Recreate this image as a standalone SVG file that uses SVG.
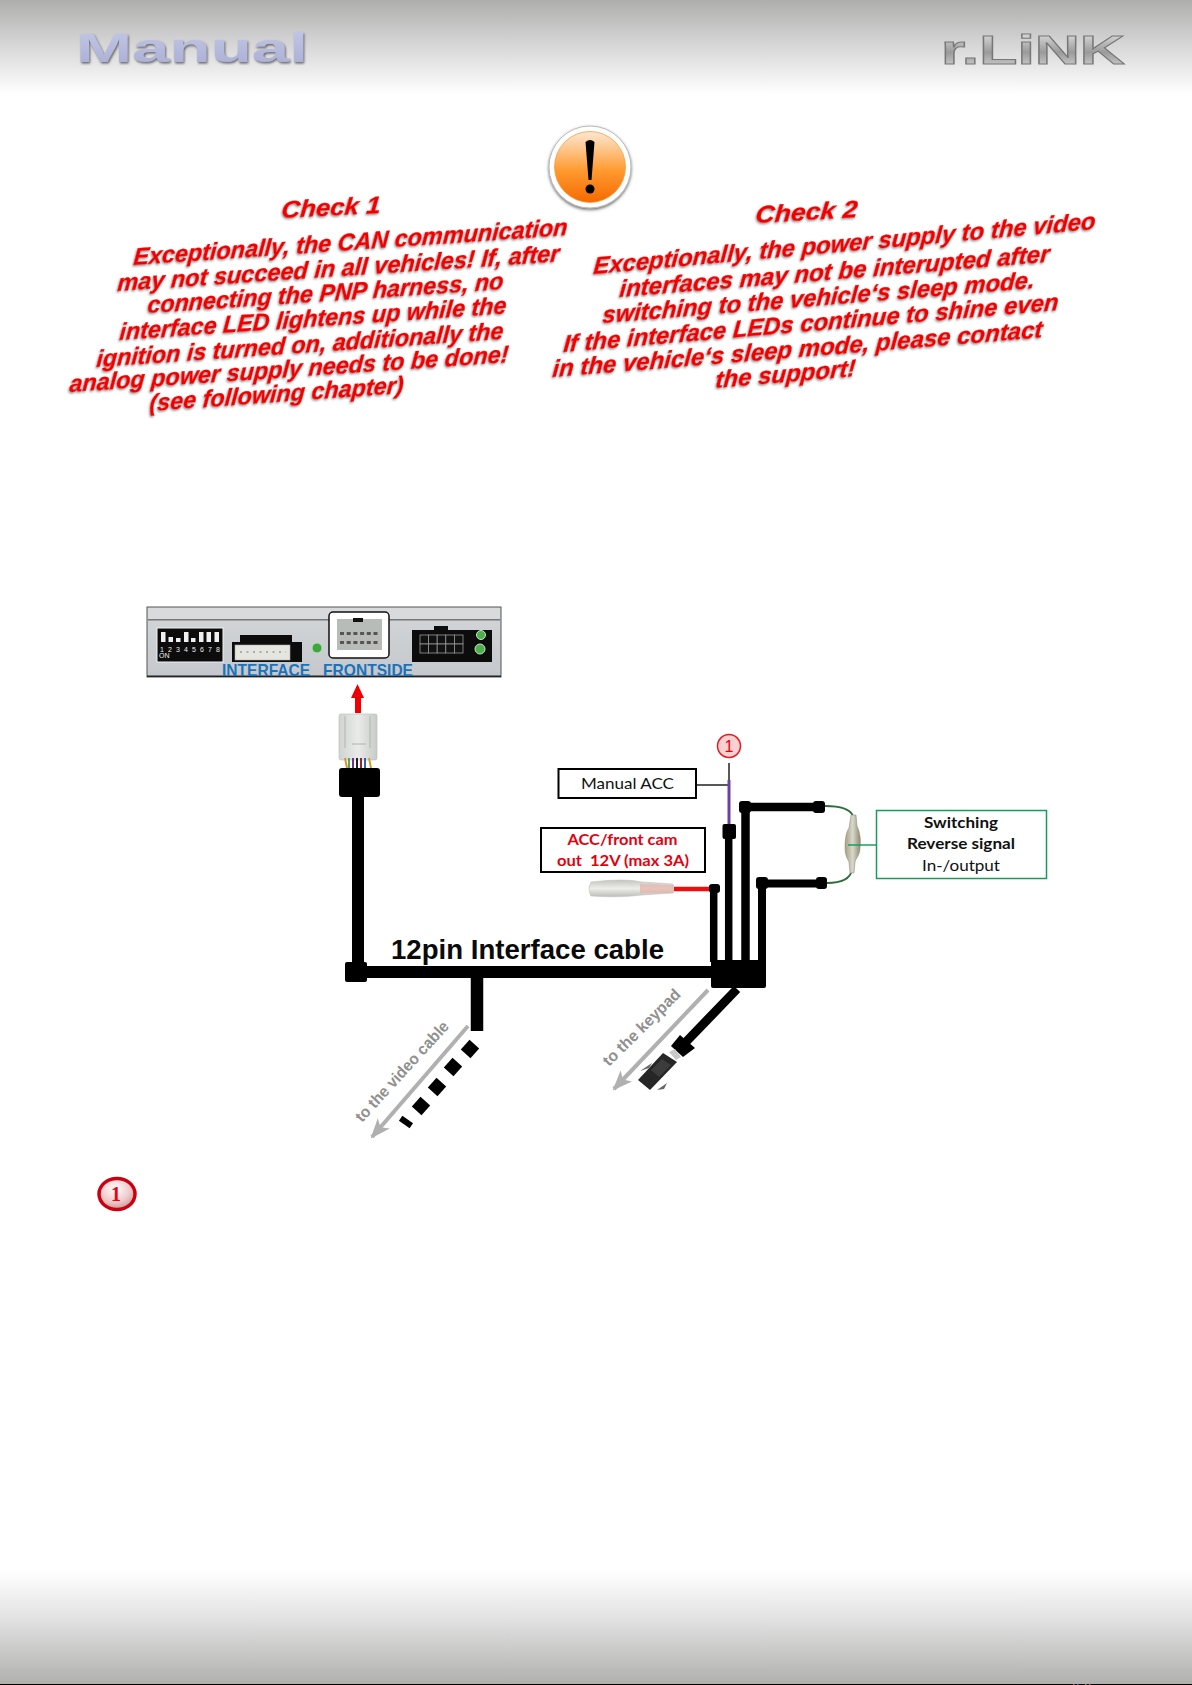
<svg xmlns="http://www.w3.org/2000/svg" width="1192" height="1685" viewBox="0 0 1192 1685">
<style>
.chk{font-family:"Liberation Sans",Arial,sans-serif;font-style:italic;font-weight:700;font-size:24px;fill:#f20000;stroke:#f20000;stroke-width:0.35}
.cal{font-family:Lato,"Liberation Sans",sans-serif;font-size:16px;text-anchor:middle;fill:#111}
.bold{font-weight:700}
.cab{fill:none;stroke:#000}
.blk{fill:#000}
.grey{font-family:"Liberation Sans",Arial,sans-serif;font-weight:700;font-size:16px;fill:#909090}
.hint{fill:none;stroke:#b0b0b0;stroke-width:4}
.dip{font-family:"Liberation Sans",Arial,sans-serif;font-size:7px;fill:#eee}
.pre{white-space:pre}
</style>
<defs>
<linearGradient id="top" x1="0" y1="0" x2="0" y2="1"><stop offset="0" stop-color="#aeaead"/><stop offset="0.45" stop-color="#d4d4d4"/><stop offset="1" stop-color="#fff"/></linearGradient>
<linearGradient id="bot" x1="0" y1="0" x2="0" y2="1"><stop offset="0" stop-color="#fff"/><stop offset="0.4" stop-color="#e4e4e4"/><stop offset="1" stop-color="#b0b0af"/></linearGradient>
<linearGradient id="man" x1="0" y1="0" x2="0" y2="1"><stop offset="0" stop-color="#c4c8e8"/><stop offset="1" stop-color="#a8acd2"/></linearGradient>
<linearGradient id="lnk" x1="0" y1="0" x2="0" y2="1"><stop offset="0" stop-color="#f0f0f0"/><stop offset="0.55" stop-color="#9a9a9a"/><stop offset="1" stop-color="#e0e0e0"/></linearGradient>
<linearGradient id="org" x1="0" y1="0" x2="0" y2="1"><stop offset="0" stop-color="#fde8d4"/><stop offset="0.55" stop-color="#ff9a30"/><stop offset="1" stop-color="#f56a00"/></linearGradient>
<linearGradient id="plate" x1="0" y1="0" x2="0" y2="1"><stop offset="0" stop-color="#d4d6d8"/><stop offset="1" stop-color="#c4c8cc"/></linearGradient>
<linearGradient id="plug" x1="0" y1="0" x2="1" y2="0"><stop offset="0" stop-color="#d0d4d0"/><stop offset="0.5" stop-color="#e8ebe8"/><stop offset="1" stop-color="#c8ccc8"/></linearGradient>
<linearGradient id="fuse" x1="0" y1="0" x2="1" y2="0"><stop offset="0" stop-color="#a89e80"/><stop offset="0.5" stop-color="#d8d8cc"/><stop offset="1" stop-color="#8e8a70"/></linearGradient>
<linearGradient id="term" x1="0" y1="0" x2="0" y2="1"><stop offset="0" stop-color="#c4c4c0"/><stop offset="0.5" stop-color="#ededea"/><stop offset="1" stop-color="#bcbcb8"/></linearGradient>
<radialGradient id="bad" cx="0.45" cy="0.35" r="0.7"><stop offset="0" stop-color="#fff"/><stop offset="0.6" stop-color="#f0c8c8"/><stop offset="1" stop-color="#b89090"/></radialGradient>
<filter id="sh" x="-5%" y="-5%" width="110%" height="110%"><feDropShadow dx="-0.8" dy="1.3" stdDeviation="0.9" flood-color="#777" flood-opacity="0.85"/></filter>
<filter id="sm" x="-5%" y="-10%" width="110%" height="125%"><feDropShadow dx="1" dy="1.5" stdDeviation="0.8" flood-color="#555" flood-opacity="0.9"/></filter>
<filter id="ish" x="-20%" y="-20%" width="140%" height="140%"><feDropShadow dx="0" dy="1.5" stdDeviation="1.5" flood-color="#444" flood-opacity="0.8"/></filter>
<marker id="ah" markerUnits="userSpaceOnUse" markerWidth="20" markerHeight="16" refX="18" refY="8" orient="auto"><path d="M0,0 L20,8 L0,16 L5,8 Z" fill="#b0b0b0"/></marker>
</defs>

<g id="header">
<rect x="0" y="0" width="1192" height="94" fill="url(#top)"/>
<text x="76" y="62" textLength="232" lengthAdjust="spacingAndGlyphs" font-family="Liberation Sans" font-weight="700" font-size="41" fill="url(#man)" filter="url(#sm)">Manual</text>
<text x="941" y="64" textLength="184" lengthAdjust="spacingAndGlyphs" font-family="Liberation Sans" font-weight="700" font-size="41" fill="url(#lnk)" stroke="#777" stroke-width="1">r.LiNK</text>
</g>
<g id="footer">
<rect x="0" y="1570" width="1192" height="114" fill="url(#bot)"/>
<rect x="0" y="1684" width="1192" height="1" fill="#000"/>
<rect x="1073" y="1684" width="1.500" height="1" fill="#c04060"/>
<rect x="1077" y="1684" width="1.500" height="1" fill="#4050c0"/>
<rect x="1085" y="1684" width="1.500" height="1" fill="#40a060"/>
<rect x="1089" y="1684" width="1.500" height="1" fill="#c04060"/>
</g>

<g id="warning-icon">
<circle cx="590" cy="167" r="41" fill="#fff" stroke="#bbb" stroke-width="1" filter="url(#ish)"/>
<circle cx="590" cy="167" r="35.5" fill="url(#org)" stroke="#f0a040" stroke-width="0.8"/>
<path d="M585.500,142 Q590,138 594.500,142 L591.500,180 L588.500,180 Z" class="blk"/>
<circle cx="590" cy="189" r="4.500" class="blk"/>
</g>

<g id="check-1" filter="url(#sh)">
<text class="chk" transform="matrix(1 -0.05 -0.08 1 281 218)" textLength="99" lengthAdjust="spacingAndGlyphs">Check 1</text>
<text class="chk" transform="matrix(1 -0.069 -0.08 1 133 265)" textLength="434" lengthAdjust="spacingAndGlyphs">Exceptionally, the CAN communication</text>
<text class="chk" transform="matrix(1 -0.067 -0.08 1 117 291)" textLength="442" lengthAdjust="spacingAndGlyphs">may not succeed in all vehicles! If, after</text>
<text class="chk" transform="matrix(1 -0.067 -0.08 1 147 313)" textLength="356" lengthAdjust="spacingAndGlyphs">connecting the PNP harness, no</text>
<text class="chk" transform="matrix(1 -0.069 -0.08 1 119 340)" textLength="387" lengthAdjust="spacingAndGlyphs">interface LED lightens up while the</text>
<text class="chk" transform="matrix(1 -0.069 -0.08 1 96 367)" textLength="407" lengthAdjust="spacingAndGlyphs">ignition is turned on, additionally the</text>
<text class="chk" transform="matrix(1 -0.068 -0.08 1 69 392)" textLength="439" lengthAdjust="spacingAndGlyphs">analog power supply needs to be done!</text>
<text class="chk" transform="matrix(1 -0.071 -0.08 1 149 411)" textLength="254" lengthAdjust="spacingAndGlyphs">(see following chapter)</text>
</g>

<g id="check-2" filter="url(#sh)">
<text class="chk" transform="matrix(1 -0.058 -0.08 1 755 223)" textLength="102" lengthAdjust="spacingAndGlyphs">Check 2</text>
<text class="chk" transform="matrix(1 -0.09 -0.08 1 593 274)" textLength="502" lengthAdjust="spacingAndGlyphs">Exceptionally, the power supply to the video</text>
<text class="chk" transform="matrix(1 -0.082 -0.08 1 619 297)" textLength="430" lengthAdjust="spacingAndGlyphs">interfaces may not be interupted after</text>
<text class="chk" transform="matrix(1 -0.081 -0.08 1 602 323)" textLength="432" lengthAdjust="spacingAndGlyphs">switching to the vehicle‘s sleep mode.</text>
<text class="chk" transform="matrix(1 -0.085 -0.08 1 563 352)" textLength="495" lengthAdjust="spacingAndGlyphs">If the interface LEDs continue to shine even</text>
<text class="chk" transform="matrix(1 -0.081 -0.08 1 552 377)" textLength="490" lengthAdjust="spacingAndGlyphs">in the vehicle‘s sleep mode, please contact</text>
<text class="chk" transform="matrix(1 -0.085 -0.08 1 715 388)" textLength="140" lengthAdjust="spacingAndGlyphs">the support!</text>
</g>

<g id="interface-frontside">
<rect x="147" y="607" width="354" height="70" fill="url(#plate)" stroke="#555" stroke-width="1"/>
<rect x="148" y="608" width="352" height="12" fill="#d8dadc"/>
<rect x="148" y="619" width="352" height="1.500" fill="#777"/>
<rect x="147" y="675.500" width="354" height="1.500" fill="#222"/>
<rect x="157" y="628" width="66" height="34" fill="#0c0c0c" stroke="#f2f2f2" stroke-width="1"/>
<g fill="#f0f0f0"><rect x="161" y="632" width="4.500" height="10"/><rect x="168.500" y="637" width="4.500" height="5"/><rect x="176" y="638" width="4.500" height="4"/><rect x="184" y="632" width="4.500" height="10"/><rect x="191" y="638" width="4.500" height="4"/><rect x="199" y="632" width="4.500" height="10"/><rect x="206.500" y="632" width="4.500" height="10"/><rect x="214.500" y="632" width="4.500" height="10"/></g>
<text class="dip" x="160" y="652" textLength="60" lengthAdjust="spacing">1 2 3 4 5 6 7 8</text>
<text class="dip" x="159" y="658">ON</text>
<rect x="232" y="642" width="70" height="20" fill="#0c0c0c"/>
<rect x="240" y="635" width="52" height="9" fill="#0c0c0c"/>
<rect x="235" y="645" width="55" height="15" fill="#e6e6e0" stroke="#aaa" stroke-width="0.600"/>
<path d="M240,652 H286" stroke="#999" stroke-width="1.500" stroke-dasharray="2 4.500"/>
<circle cx="317" cy="648" r="5" fill="#3ea63e" stroke="#b8ddb8" stroke-width="1"/>
<rect x="329" y="612" width="60" height="46" rx="4" fill="#fff" stroke="#111" stroke-width="1.500"/>
<rect x="337" y="619" width="45" height="31" fill="#b8bcb8"/>
<rect x="353" y="618" width="10" height="4" fill="#111"/>
<path d="M340,633.500 H379 M340,642.500 H379" stroke="#555" stroke-width="3" stroke-dasharray="4 2.700"/>
<rect x="412" y="630" width="80" height="32" fill="#0c0c0c"/>
<rect x="434" y="626" width="14" height="5" fill="#0c0c0c"/>
<g fill="#111" stroke="#999" stroke-width="0.800"><rect x="420" y="635" width="8.600" height="9"/><rect x="428.600" y="635" width="8.600" height="9"/><rect x="437.200" y="635" width="8.600" height="9"/><rect x="445.800" y="635" width="8.600" height="9"/><rect x="454.400" y="635" width="8.600" height="9"/><rect x="420" y="644" width="8.600" height="9"/><rect x="428.600" y="644" width="8.600" height="9"/><rect x="437.200" y="644" width="8.600" height="9"/><rect x="445.800" y="644" width="8.600" height="9"/><rect x="454.400" y="644" width="8.600" height="9"/></g>
<circle cx="481" cy="635" r="4.500" fill="#4cb04c" stroke="#c8e4c8" stroke-width="1"/>
<circle cx="480" cy="649" r="5" fill="#4cb04c" stroke="#c8e4c8" stroke-width="1"/>
<text class="pre" x="222" y="676" textLength="191" lengthAdjust="spacingAndGlyphs" font-family="Liberation Sans" font-weight="700" font-size="16.500" fill="#1b73bb">INTERFACE   FRONTSIDE</text>
</g>

<g id="connectors">
<path d="M358,797 V972 M345,972 H712" class="cab" stroke-width="12"/>
<path d="M477,978 V1031" class="cab" stroke-width="12.500"/>
<path d="M728.700,839 V962" class="cab" stroke-width="7.500"/>
<path d="M745.500,807 V962 M745.500,807 H819" class="cab" stroke-width="8.500"/>
<path d="M762,883.500 V962 M762,883.500 H822" class="cab" stroke-width="8"/>
<path d="M713.700,888 V962" class="cab" stroke-width="7.500"/>
<path d="M729,763 V785 M696,785 H729" fill="none" stroke="#222" stroke-width="1.500"/>
<path d="M729,780 V825" fill="none" stroke="#7040a0" stroke-width="3"/>
<path d="M674,889 H710" fill="none" stroke="#ec0f0f" stroke-width="4.500"/>
<path d="M825,806 C838,806 850,808 853,816" fill="none" stroke="#2a6e3a" stroke-width="1.800"/>
<path d="M827,883 C840,883 850,880 852,870" fill="none" stroke="#2a6e3a" stroke-width="1.800"/>
<path d="M737,989 L683,1045" class="cab" stroke-width="9"/>
<path d="M468,1026 L372,1137" class="hint" marker-end="url(#ah)"/>
<path d="M708,990 L614,1089" class="hint" marker-end="url(#ah)"/>
<g class="blk">
<rect x="-6.500" y="-6.500" width="13" height="13" transform="translate(470 1049) rotate(-48)"/>
<rect x="-6.500" y="-6.500" width="13" height="13" transform="translate(453 1067) rotate(-48)"/>
<rect x="-6.500" y="-6.500" width="13" height="13" transform="translate(437 1087) rotate(-48)"/>
<rect x="-6.500" y="-6.500" width="13" height="13" transform="translate(421 1106) rotate(-48)"/>
<rect x="-6.500" y="-3" width="13" height="6" transform="translate(406 1122) rotate(35)"/>
</g>
</g>

<g id="plug">
<rect x="339" y="714" width="38" height="46" rx="2" fill="url(#plug)" stroke="#bbb" stroke-width="0.600"/>
<path d="M345,716 V748 M370,716 V748 M352,744 H366" stroke="#b0b4b0" stroke-width="1" fill="none"/>
<path d="M345,758 L347,768" stroke="#e09030" stroke-width="2"/><path d="M349,758 V768" stroke="#58a858" stroke-width="2"/><path d="M353,758 V768" stroke="#703090" stroke-width="2"/><path d="M357,758 V768" stroke="#222" stroke-width="2"/><path d="M361,758 V768" stroke="#a02030" stroke-width="2"/><path d="M365,758 V768" stroke="#3060b0" stroke-width="2"/><path d="M369,758 L371,768" stroke="#d0a030" stroke-width="2"/>
<rect x="339" y="768" width="41" height="29" rx="3" class="blk"/>
<path d="M355,713 H361 V698 H364 L357.500,684 L351,698 H355 Z" fill="#f00000"/>
</g>
<g id="boots" class="blk">
<rect x="345" y="962" width="22" height="20" rx="2"/>
<rect x="711" y="960" width="55" height="28" rx="2"/>
<rect x="722.500" y="824" width="13.500" height="15" rx="2"/>
<rect x="739" y="801" width="12" height="12" rx="3"/>
<rect x="813" y="801" width="12" height="12" rx="3"/>
<rect x="756" y="877" width="12" height="12" rx="3"/>
<rect x="816" y="877" width="11" height="12" rx="3"/>
<rect x="709" y="884" width="11" height="9" rx="3"/>
<path d="M680,1035 L695,1048 L683,1057 L671,1046 Z"/>
</g>

<g id="fuse-holder">
<path d="M851,815 L856,815 L857,826 C860,832 861,840 860,848 C860,855 856,858 855,862 L854,873 L850,873 L849,862 C847,858 845,855 845,848 C845,840 846,832 849,828 Z" fill="url(#fuse)" stroke="#8a8670" stroke-width="0.500"/>
<path d="M848,845 H876.500" fill="none" stroke="#1aa060" stroke-width="1.500"/>
</g>
<g id="terminal">
<path d="M591,882 Q625,878 642,882 L673,884 V893 L642,895 Q620,898 591,896 Q587,889 591,882 Z" fill="url(#term)" stroke="#bbb" stroke-width="0.500"/>
<path d="M640,884 L674,885 V893 L640,893 Z" fill="#e6b0a8" opacity="0.7"/>
</g>
<g id="keypad-connector">
<path d="M669,1052 L675,1049 L681,1057 L676,1060 Z" fill="#c8c8c8"/>
<path d="M663,1053 L677,1062 L650,1090 L638,1080 Z" fill="#262626"/>
<path d="M662,1059 L671,1065 L659,1077 L651,1070 Z" fill="#3c3c3c"/>
<path d="M640,1071 L652,1063 L649,1068 Z M657,1090 L667,1083 L664,1089 Z" fill="#666"/>
</g>

<g id="video-hint"><text class="grey" transform="translate(362 1123) rotate(-47.500)" textLength="130" lengthAdjust="spacingAndGlyphs">to the video cable</text></g>
<g id="keypad-hint"><text class="grey" transform="translate(609 1067) rotate(-44.600)" textLength="102" lengthAdjust="spacingAndGlyphs">to the keypad</text></g>
<g id="cable-label"><text x="391" y="959" textLength="273" lengthAdjust="spacingAndGlyphs" font-family="Liberation Sans" font-weight="700" font-size="28" fill="#0a0a0a">12pin Interface cable</text></g>

<g id="manual-acc">
<rect x="558.500" y="769" width="137.500" height="29" fill="#fff" stroke="#000" stroke-width="2"/>
<text class="cal" x="627.500" y="789" textLength="93" lengthAdjust="spacingAndGlyphs">Manual ACC</text>
</g>
<g id="acc-front">
<rect x="541" y="828" width="164" height="44" fill="#fff" stroke="#000" stroke-width="2"/>
<text class="cal bold" style="fill:#e3000f" x="622.500" y="845" textLength="110" lengthAdjust="spacingAndGlyphs">ACC/front cam</text>
<text class="cal bold pre" style="fill:#e3000f" x="623" y="866" textLength="132" lengthAdjust="spacingAndGlyphs">out  12V (max 3A)</text>
</g>
<g id="switching">
<rect x="876.500" y="810.500" width="170" height="68" fill="#fff" stroke="#1a9a5a" stroke-width="1.500"/>
<text class="cal bold" x="961" y="828" textLength="74" lengthAdjust="spacingAndGlyphs">Switching</text>
<text class="cal bold" x="961" y="849" textLength="108" lengthAdjust="spacingAndGlyphs">Reverse signal</text>
<text class="cal" x="961" y="871" textLength="78" lengthAdjust="spacingAndGlyphs">In-/output</text>
</g>
<g id="badge-top">
<ellipse cx="729" cy="746" rx="11.500" ry="11.500" fill="#fbd0d0" stroke="#e41a22" stroke-width="1.500"/>
<text x="729" y="752" text-anchor="middle" font-family="Liberation Sans" font-size="16" fill="#e3000f">1</text>
</g>
<g id="badge-bottom">
<ellipse cx="117" cy="1194" rx="18" ry="15.500" fill="url(#bad)" stroke="#cc0010" stroke-width="3.500"/>
<text x="116" y="1201" text-anchor="middle" font-family="Liberation Serif" font-weight="700" font-size="20" fill="#f00010">1</text>
</g>
</svg>
